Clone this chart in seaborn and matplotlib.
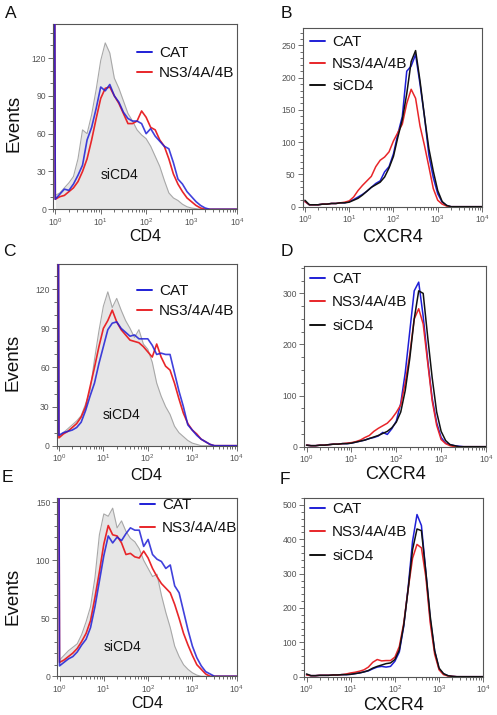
import numpy as np
import pandas as pd
import matplotlib
matplotlib.use("Agg")
import matplotlib.pyplot as plt
from matplotlib.lines import Line2D
from matplotlib.ticker import LogLocator, MultipleLocator, LogFormatterSciNotation, NullFormatter
import seaborn as sns

sns.set_theme(style="white")
plt.rcParams["font.family"] = ["Liberation Sans", "DejaVu Sans"]
plt.rcParams["mathtext.fontset"] = "custom"
plt.rcParams["mathtext.rm"] = "Liberation Sans"
plt.rcParams["mathtext.it"] = "Liberation Sans:italic"
plt.rcParams["mathtext.bf"] = "Liberation Sans:bold"

# ---------------- data (log10 channel grid, events per channel) ----------------
log_channel = [round(0.1 * i, 1) for i in range(41)]   # 10^0 ... 10^4
edge_channel = -0.045                                    # off-scale first bin (CD4 panels)

# Panel A (CD4)
A_siCD4 = [11,13,17,21,26,40,63,60,75,95,118,132,124,104,96,86,76,70,63,59,56,50,42,34,23,13,9,7,4,2,1,0.5,0,0,0,0,0,0,0,0,0]
A_CAT   = [8,12,16,15,20,27,35,55,65,80,97,94,99,90,85,77,72,70,70,68,60,64,58,54,50,48,37,24,20,14,10,6,3,1,0,0,0,0,0,0,0]
A_NS3   = [8,10,11,14,17,22,30,40,55,72,88,96,97,90,84,76,68,68,70,78,73,65,63,55,50,40,28,20,14,9,6,3,1,0,0,0,0,0,0,0,0]
# Panel B (CXCR4)
B_CAT   = [8,3,3,3,4,4,5,5,6,6,8,11,15,19,24,30,36,40,54,62,82,113,140,210,218,236,190,140,80,45,20,7,2,0,0,0,0,0,0,0,0]
B_NS3   = [8,3,3,3,4,4,5,5,6,7,9,15,25,33,40,47,62,72,77,85,102,115,128,160,182,168,125,95,62,28,10,4,1,0,0,0,0,0,0,0,0]
B_siCD4 = [10,3,3,3,4,4,5,5,6,6,7,10,13,18,24,30,34,38,46,60,78,108,135,175,225,242,195,140,90,55,25,8,2,0,0,0,0,0,0,0,0]
# Panel C (CD4)
C_siCD4 = [7,10,13,16,19,23,32,42,66,88,107,118,106,113,104,96,90,83,89,78,74,64,48,38,30,24,15,10,7,4,2,1,0,0,0,0,0,0,0,0,0]
C_CAT   = [8,10,11,12,14,18,27,38,48,63,76,89,94,95,90,87,84,85,82,82,82,77,70,71,70,70,56,42,30,16,12,8,5,3,1,0,0,0,0,0,0]
C_NS3   = [6,9,11,14,17,22,30,45,60,76,90,96,104,95,89,85,81,80,79,76,72,68,78,68,61,58,48,36,25,17,12,9,5,3,1,0,0,0,0,0,0]
# Panel D (CXCR4)
D_CAT   = [3,2,2,3,3,4,5,5,6,6,7,9,11,13,16,18,21,28,24,35,50,85,145,225,305,322,255,170,95,47,18,7,4,2,1,0,0,0,0,0,0]
D_NS3   = [3,2,2,3,3,4,5,5,6,7,8,10,13,18,22,30,36,41,46,55,67,82,125,180,250,270,240,165,90,42,14,6,2,0,0,0,0,0,0,0,0]
D_siCD4 = [3,2,2,3,3,4,5,5,6,6,7,9,11,13,16,19,22,26,30,37,48,68,110,172,250,305,300,215,135,68,30,12,4,2,0,0,0,0,0,0,0]
# Panel E (CD4)
E_siCD4 = [14,18,22,25,28,36,47,60,85,122,140,138,145,128,134,125,119,116,110,100,93,86,88,70,55,42,26,17,10,6,3,1,0,0,0,0,0,0,0,0,0]
E_CAT   = [9,12,15,17,21,27,32,42,60,82,104,121,115,120,117,123,128,126,126,112,118,105,101,99,93,96,78,72,56,40,26,16,9,4,2,0,0,0,0,0,0]
E_NS3   = [12,14,17,20,24,30,37,48,68,90,114,130,122,121,115,105,106,103,102,108,102,93,86,80,76,72,62,50,37,27,18,10,6,2,0,0,0,0,0,0,0]
# Panel F (CXCR4)
F_CAT   = [6,3,3,4,4,4,5,5,6,6,7,9,11,14,17,23,28,30,28,30,45,72,147,260,395,472,440,305,166,75,22,8,3,1,0,0,0,0,0,0,0]
F_NS3   = [5,3,3,4,4,4,5,5,6,8,11,13,16,20,28,42,50,46,47,47,57,88,156,255,345,385,375,290,156,65,20,6,2,1,0,0,0,0,0,0,0]
F_siCD4 = [8,3,3,4,4,4,5,5,6,6,7,9,11,14,18,25,30,34,38,40,50,78,150,255,370,430,425,305,175,75,25,9,3,1,0,0,0,0,0,0,0]

edge_count = 600   # off-scale count in the lowest CD4 channel

series_names = ["CAT", "NS3/4A/4B", "siCD4"]
colors = {"CAT": "#1f1fd6", "NS3/4A/4B": "#e8262a", "siCD4": "#111111"}

# ---------------- layout (pixels of the 497x715 figure) ----------------
W, H = 497, 715
fig = plt.figure(figsize=(W / 100, H / 100), dpi=100)

def axes_px(l, t, r, b):
    return fig.add_axes([l / W, 1 - b / H, (r - l) / W, (b - t) / H])

panels = [
    dict(letter="A", kind="CD4", box=(53, 24, 237, 209.3), ymax=147, major=30, minor=10,
         data=(A_CAT, A_NS3, A_siCD4), leg=(137, 46), lspace=0.42, letter_xy=(11, 14),
         ylab=(14, 123.5), xlab_y=-0.108, txt=(0.364, 0.185)),
    dict(letter="B", kind="CXCR4", box=(302.7, 28, 482, 206.7), ymax=277, major=50, minor=10,
         data=(B_CAT, B_NS3, B_siCD4), leg=(310, 35), lspace=0.53, letter_xy=(286, 13), xlab_y=-0.125),
    dict(letter="C", kind="CD4", box=(56.7, 264, 236.7, 445.7), ymax=139.4, major=30, minor=10,
         data=(C_CAT, C_NS3, C_siCD4), leg=(137, 284), lspace=0.42, letter_xy=(9, 251),
         ylab=(13, 362), xlab_y=-0.125, txt=(0.363, 0.169)),
    dict(letter="D", kind="CXCR4", box=(304.3, 266, 486, 446.7), ymax=353.6, major=100, minor=25,
         data=(D_CAT, D_NS3, D_siCD4), leg=(310, 272), lspace=0.62, letter_xy=(286.5, 251), xlab_y=-0.108),
    dict(letter="E", kind="CD4", box=(57.3, 497.7, 236.7, 676.3), ymax=154, major=50, minor=10,
         data=(E_CAT, E_NS3, E_siCD4), leg=(140, 498), lspace=0.62, letter_xy=(7, 478),
         ylab=(13, 596), xlab_y=-0.108, txt=(0.366, 0.164)),
    dict(letter="F", kind="CXCR4", box=(304.3, 497.7, 483.3, 676.7), ymax=521, major=100, minor=20,
         data=(F_CAT, F_NS3, F_siCD4), leg=(310, 502), lspace=0.62, letter_xy=(285, 479), xlab_y=-0.113),
]

tick_color = "#555555"
spine_color = "#555555"

for p in panels:
    ax = axes_px(*p["box"])
    cat, ns3, si = p["data"]
    x = 10 ** np.array(log_channel)
    if p["kind"] == "CD4":
        xe = 10 ** np.array([edge_channel] + log_channel)
        ax.fill_between(x, si, 0, color="#e6e6e6", lw=0, zorder=1)
        sns.lineplot(x=x, y=si, ax=ax, color="#a8a8a8", lw=0.8, estimator=None, sort=False, zorder=2)
        sns.lineplot(x=xe, y=[edge_count] + ns3, ax=ax, color=colors["NS3/4A/4B"], lw=1.2,
                     estimator=None, sort=False, zorder=3)
        sns.lineplot(x=xe, y=[edge_count] + cat, ax=ax, color=colors["CAT"], lw=1.2,
                     estimator=None, sort=False, zorder=4, alpha=0.85)
        ax.text(*p["txt"], "siCD4", transform=ax.transAxes, ha="center", va="center",
                fontsize=10, color="#111111", zorder=5)
        handles = [Line2D([], [], color=colors[n], lw=1.4) for n in series_names[:2]]
        labels = series_names[:2]
        ax.set_xlabel("CD4", fontsize=11.5, color="#111111")
        fig.text(p["ylab"][0] / W, 1 - p["ylab"][1] / H, "Events", rotation=90,
                 ha="center", va="center", fontsize=13.5, color="#111111")
    else:
        for vals, n, z in ((cat, "CAT", 3), (ns3, "NS3/4A/4B", 4), (si, "siCD4", 5)):
            sns.lineplot(x=x, y=vals, ax=ax, color=colors[n], lw=1.1, estimator=None,
                         sort=False, zorder=z)
        handles = [Line2D([], [], color=colors[n], lw=1.4) for n in series_names]
        labels = series_names
        ax.set_xlabel("CXCR4", fontsize=13, color="#111111")

    ax.xaxis.set_label_coords(0.5, p["xlab_y"])
    ax.xaxis.label.set_va("top")
    ax.set_ylabel("")

    ax.set_xscale("log")
    ax.set_xlim(10 ** -0.05, 10 ** 4)
    ax.set_ylim(0, p["ymax"])
    ax.xaxis.set_major_locator(LogLocator(base=10, numticks=10))
    ax.xaxis.set_major_formatter(LogFormatterSciNotation())
    ax.xaxis.set_minor_locator(LogLocator(base=10, subs=np.arange(2, 10), numticks=20))
    ax.xaxis.set_minor_formatter(NullFormatter())
    ax.yaxis.set_major_locator(MultipleLocator(p["major"]))
    ax.yaxis.set_minor_locator(MultipleLocator(p["minor"]))
    ax.tick_params(which="both", direction="out", colors=tick_color, labelsize=6.2,
                   bottom=True, left=True, top=False, right=False, width=0.6)
    ax.tick_params(which="major", length=3.5, pad=1.5)
    ax.tick_params(which="minor", length=2)
    for s in ax.spines.values():
        s.set_color(spine_color)
        s.set_linewidth(0.8)
    ax.set_facecolor("white")

    leg = ax.legend(handles, labels, loc="upper left",
                    bbox_to_anchor=(p["leg"][0] / W, 1 - p["leg"][1] / H),
                    bbox_transform=fig.transFigure, frameon=False, fontsize=11,
                    handlelength=1.0, handletextpad=0.45, labelspacing=p["lspace"],
                    borderpad=0, borderaxespad=0)
    for t in leg.get_texts():
        t.set_color("#111111")

    fig.text(p["letter_xy"][0] / W, 1 - p["letter_xy"][1] / H, p["letter"],
             ha="center", va="center", fontsize=12.5, color="#111111")

fig.savefig("out.png", dpi=100)
